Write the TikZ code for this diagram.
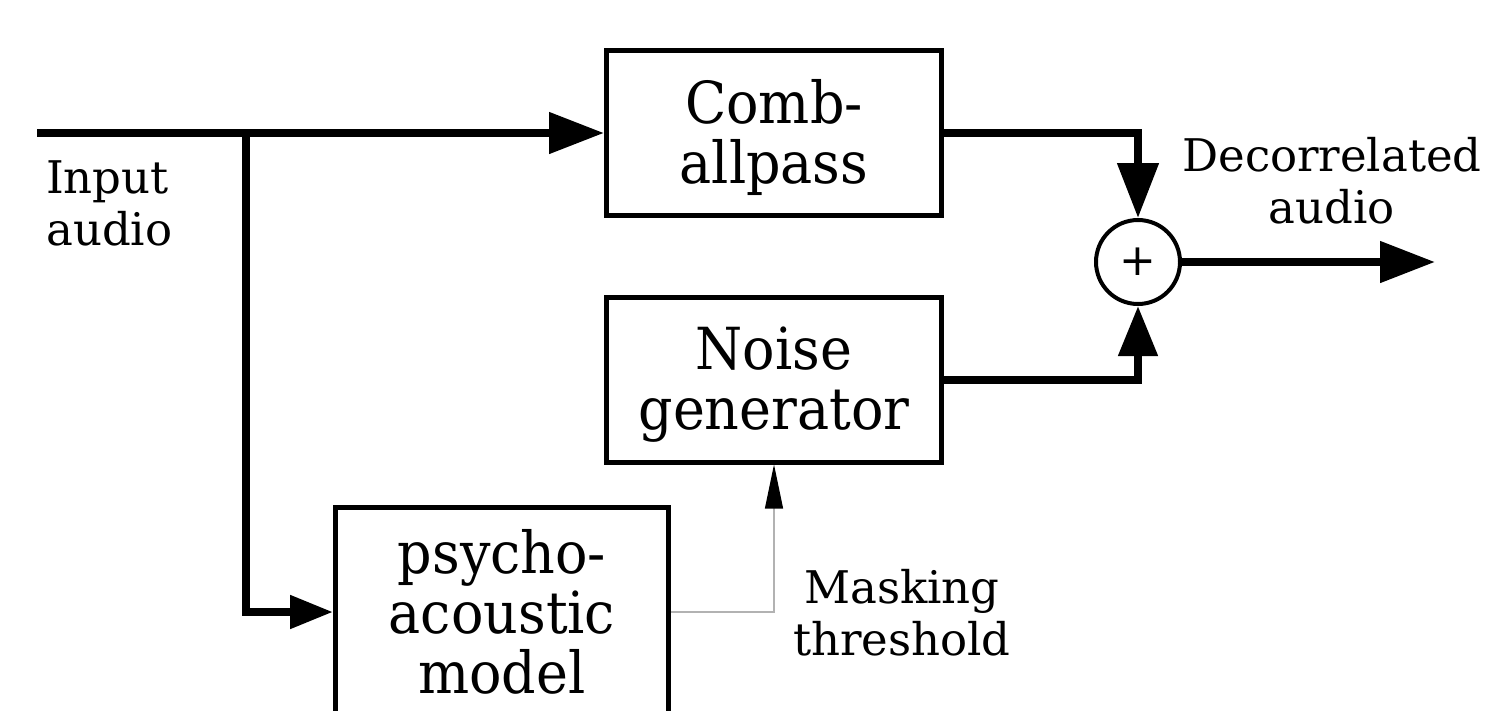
\documentclass[tikz,border=0pt]{standalone}
\usepackage{fontspec}
\setmainfont{DejaVu Serif}
\newfontfamily\blkfont[FakeStretch=0.93]{DejaVu Serif}
\newfontfamily\plusfont{DejaVu Sans}
\usetikzlibrary{arrows.meta}
\begin{document}
\begin{tikzpicture}[x=1pt,y=-1pt,
  blk/.style={draw, line width=5pt, minimum width=335pt, minimum height=165pt, inner sep=0pt, align=center, font=\blkfont\fontsize{58}{60}\selectfont},
  lbl/.style={inner sep=0pt, font=\fontsize{45}{52}\selectfont},
  main/.style={line width=8pt, line join=miter},
  bigtip/.style={-{Triangle[length=55pt,width=40pt]}},
  thinline/.style={line width=1.2pt, draw=black!30, -{Triangle[length=44pt,width=18pt,black]}}
]
\useasboundingbox (0,0) rectangle (1491,710);
\clip (0,0) rectangle (1491,710);
\node[blk] (comb) at (774,133) {\rule{0pt}{53pt}Comb-\\allpass};
\node[blk] (noise) at (774,379.5) {\rule{0pt}{53pt}Noise\\generator};
\node[blk, minimum width=333pt, minimum height=210pt] (psy) at (502,612) {psycho-\\acoustic\\model};
\node[circle, draw, line width=4pt, minimum size=84pt, inner sep=0pt, font=\plusfont\fontsize{44}{44}\selectfont] (sum) at (1138,262) {+};
\coordinate (in) at (37,133);
\coordinate (br) at (246,133);
\coordinate (out) at (1435,262);
\draw[main, bigtip] (in) -- (comb.west);
\draw[main, -{Triangle[length=43pt,width=32pt]}] (br) |- (psy.west);
\draw[main, bigtip] (comb.east) -| (sum.north);
\draw[main, -{Triangle[length=50pt,width=38pt]}] (noise.east) -| (sum.south);
\draw[main, bigtip] (sum.east) -- (out);
\draw[thinline] (psy.east) -| (noise.south);
\node[lbl, anchor=north west, align=left] (inl) at (46,160) {Input\\audio};
\node[lbl, align=center] (outl) at (1332,181) {Decorrelated\\audio};
\node[lbl, align=center] (mask) at (902,613) {Masking\\threshold};
\end{tikzpicture}
\end{document}
